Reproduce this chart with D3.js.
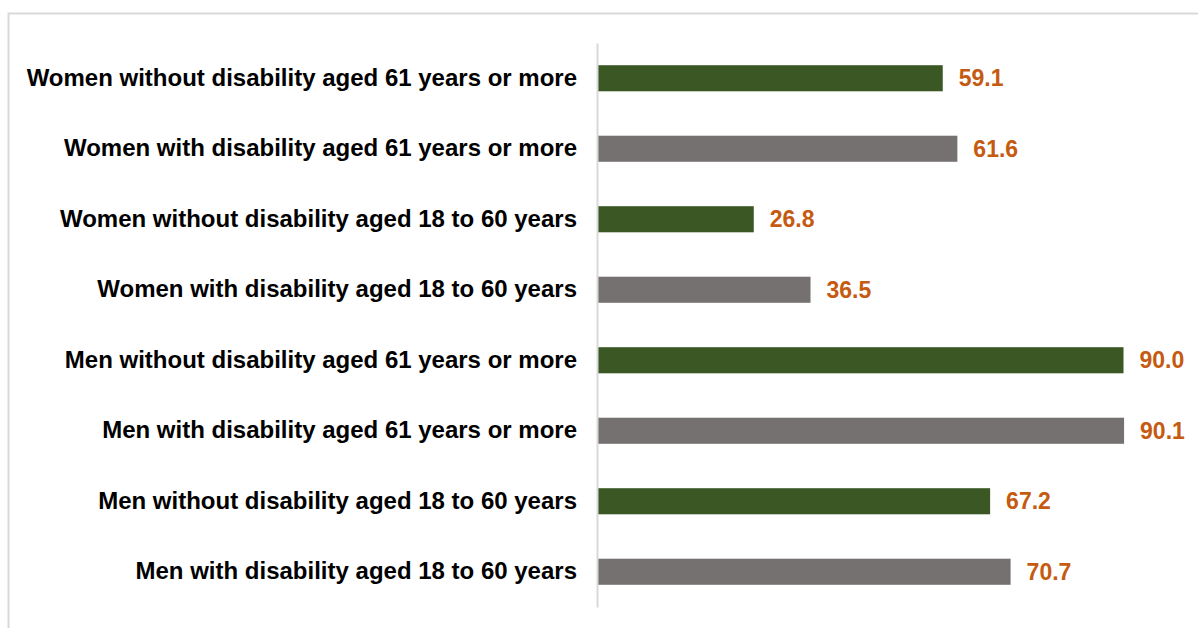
<!DOCTYPE html>
<html>
<head>
<meta charset="utf-8">
<script src="https://cdn.jsdelivr.net/npm/d3@7"></script>
<style>
  body { margin: 0; background: #fff; }
  svg { display: block; font-family: "Liberation Sans", Arial, sans-serif; }
</style>
</head>
<body>
<svg width="1198" height="628"></svg>
<script>
// chart data
const categories = [
  "Women without disability aged 61 years or more",
  "Women with disability aged 61 years or more",
  "Women without disability aged 18 to 60 years",
  "Women with disability aged 18 to 60 years",
  "Men without disability aged 61 years or more",
  "Men with disability aged 61 years or more",
  "Men without disability aged 18 to 60 years",
  "Men with disability aged 18 to 60 years"
];
const values = [59.1, 61.6, 26.8, 36.5, 90.0, 90.1, 67.2, 70.7];
const disability = [false, true, false, true, false, true, false, true];

const svg = d3.select("svg");

// outer frame
svg.append("rect")
  .attr("x", 8.5).attr("y", 13.5)
  .attr("width", 1200).attr("height", 640)
  .attr("fill", "none")
  .attr("stroke", "#d9d9d9")
  .attr("stroke-width", 2);

const x = d3.scaleLinear().domain([0, 100]).range([597, 1182]);
const y = d3.scaleBand().domain(categories).range([43, 607]).paddingInner(0.63).paddingOuter(0.315);

// bars
svg.append("g")
  .selectAll("rect")
  .data(categories)
  .enter().append("rect")
  .attr("x", x(0))
  .attr("y", d => y(d))
  .attr("width", (d, i) => x(values[i]) - x(0))
  .attr("height", y.bandwidth())
  .attr("fill", (d, i) => disability[i] ? "#767171" : "#3a5724");

// category axis
const axis = svg.append("g")
  .attr("transform", `translate(${x(0)},0)`)
  .call(d3.axisLeft(y).tickSize(0).tickPadding(20));
axis.select(".domain").attr("stroke", "#d9d9d9").attr("stroke-width", 2);
axis.selectAll("text")
  .attr("font-size", 24)
  .attr("font-weight", "bold")
  .attr("fill", "#000")
  .attr("font-family", "Liberation Sans, Arial, sans-serif");

// value labels
svg.append("g")
  .selectAll("text")
  .data(categories)
  .enter().append("text")
  .attr("x", (d, i) => x(values[i]) + 16)
  .attr("y", d => y(d) + y.bandwidth() / 2)
  .attr("dy", "0.35em")
  .attr("font-size", 23)
  .attr("font-weight", "bold")
  .attr("fill", "#c55a11")
  .text((d, i) => values[i].toFixed(1));
</script>
</body>
</html>
